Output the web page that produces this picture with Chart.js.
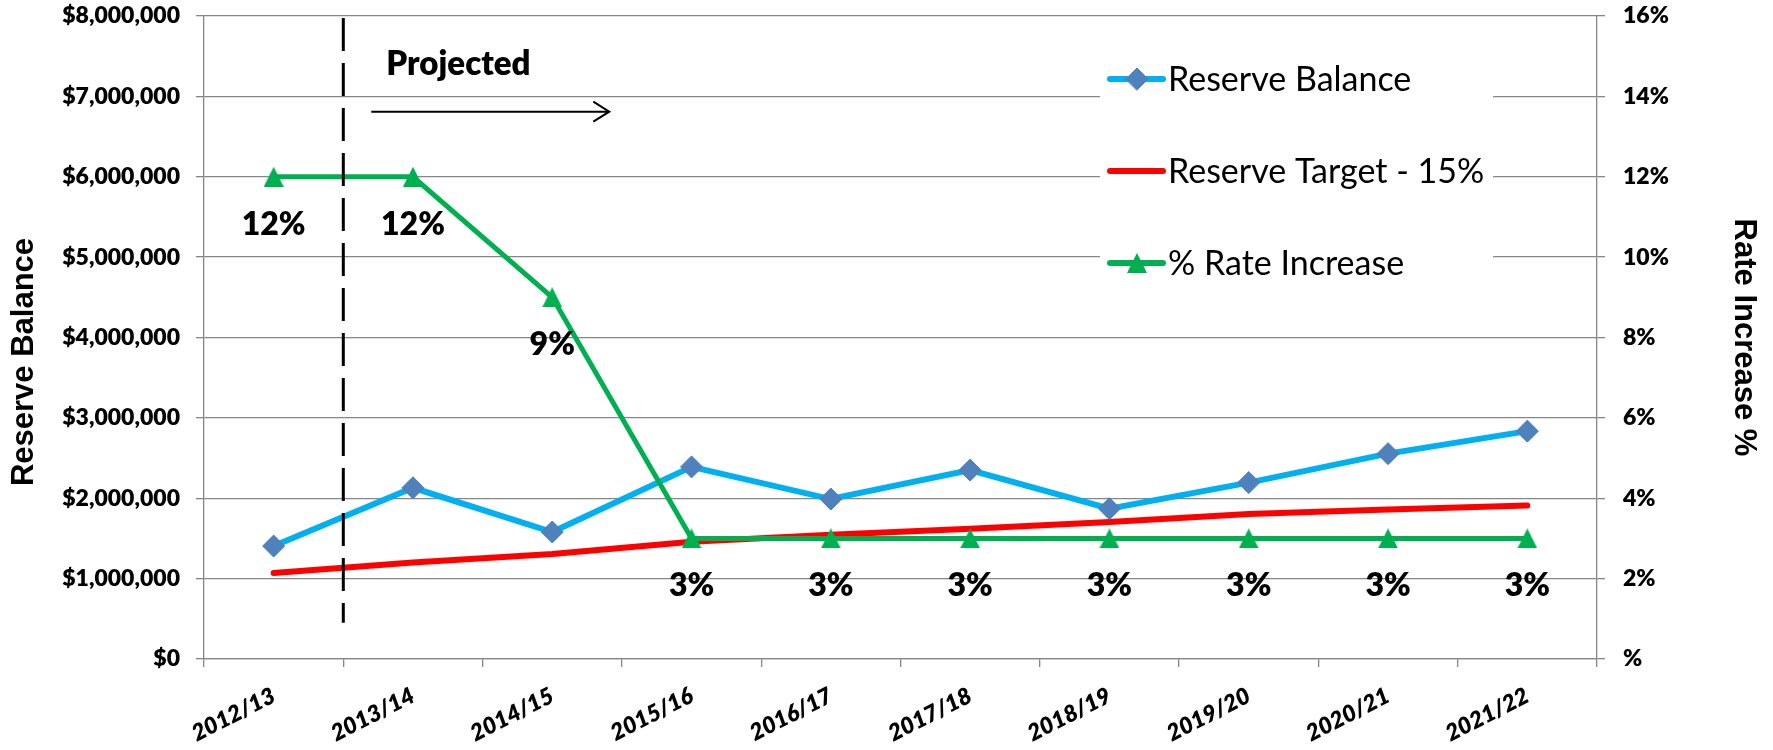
<!DOCTYPE html>
<html>
<head>
<meta charset="utf-8">
<script src="https://cdn.jsdelivr.net/npm/chart.js@4.4.1/dist/chart.umd.min.js"></script>
<style>
  html, body { margin: 0; padding: 0; background: #fff; }
  #wrap { width: 1773px; height: 750px; }
</style>
</head>
<body>
<div id="wrap"><canvas id="chart" width="1773" height="750"></canvas></div>
<script>
// Reserve balance vs target (left axis) and yearly rate increase (right axis)
const years = ['2012/13', '2013/14', '2014/15', '2015/16', '2016/17', '2017/18', '2018/19', '2019/20', '2020/21', '2021/22'];
const reserveBalance = [1405000, 2130000, 1580000, 2390000, 1990000, 2350000, 1870000, 2195000, 2555000, 2835000];
const reserveTarget = [1070000, 1200000, 1305000, 1460000, 1545000, 1620000, 1705000, 1805000, 1860000, 1910000];
const rateIncrease = [12, 12, 9, 3, 3, 3, 3, 3, 3, 3];

const balanceMax = 8000000, balanceStep = 1000000;
const rateMax = 16, rateStep = 2;

// where the projection starts (between 1st and 2nd category) and its note
const projectionSplit = 0.5;
const projectedLabel = 'Projected';

const GRID = '#868686';
const FONT = 'Lato, "Noto Sans", sans-serif';
const TITLE_FONT = '"Liberation Sans", Arial, sans-serif';
const HEAVY = '800';

// Excel style triangle marker
function triangleMarker(w, h, color) {
  const c = document.createElement('canvas');
  c.width = w; c.height = h;
  const g = c.getContext('2d');
  g.fillStyle = color;
  g.beginPath();
  g.moveTo(w / 2, 0);
  g.lineTo(w, h);
  g.lineTo(0, h);
  g.closePath();
  g.fill();
  return c;
}
const greenTriangle = triangleMarker(20, 20, '#00B050');

const overlays = {
  id: 'overlays',
  afterDatasetsDraw(chart) {
    const { ctx, chartArea, scales } = chart;
    const x = scales.x, y = scales.y;
    ctx.save();

    // left axis title, sits a bit below the middle like the original
    ctx.font = 'bold 31px ' + TITLE_FONT;
    ctx.fillStyle = '#000';
    ctx.textAlign = 'center';
    ctx.textBaseline = 'middle';
    ctx.translate(24, 362);
    ctx.rotate(-Math.PI / 2);
    ctx.fillText('Reserve Balance', 0, 0);
    ctx.setTransform(1, 0, 0, 1, 0, 0);

    // % labels under the rate points
    const rateMeta = chart.getDatasetMeta(2);
    ctx.font = HEAVY + ' 32px ' + FONT;
    ctx.textAlign = 'center';
    ctx.textBaseline = 'alphabetic';
    rateMeta.data.forEach((pt, i) => {
      ctx.fillText(rateIncrease[i] + '%', pt.x, pt.y + 58);
    });

    // dashed split line
    const sx = x.getPixelForValue(projectionSplit);
    ctx.strokeStyle = '#000';
    ctx.lineWidth = 3;
    ctx.setLineDash([33, 12]);
    ctx.beginPath();
    ctx.moveTo(sx, chartArea.top + 2);
    ctx.lineTo(sx, y.getPixelForValue(450000));
    ctx.stroke();
    ctx.setLineDash([]);

    // "Projected" note with arrow
    ctx.font = HEAVY + ' 33px ' + FONT;
    ctx.textAlign = 'left';
    ctx.fillText(projectedLabel, sx + 43, y.getPixelForValue(7270000));
    const ay = y.getPixelForValue(6810000);
    const ax0 = sx + 28, ax1 = sx + 266;
    ctx.lineWidth = 2;
    ctx.beginPath();
    ctx.moveTo(ax0, ay);
    ctx.lineTo(ax1, ay);
    ctx.moveTo(ax1 - 16, ay - 10);
    ctx.lineTo(ax1, ay);
    ctx.lineTo(ax1 - 16, ay + 10);
    ctx.stroke();

    // legend box inside the plot, top right
    const bx = chartArea.right - 497, by = chartArea.top + 26;
    ctx.fillStyle = '#fff';
    ctx.fillRect(bx, by, 393, 256);
    ctx.font = '34px ' + FONT;
    ctx.textAlign = 'left';
    [0, 1, 2].forEach((di, row) => {
      const ds = chart.data.datasets[di];
      const ly = chartArea.top + 63 + row * 92;
      ctx.strokeStyle = ds.borderColor;
      ctx.lineWidth = 6;
      ctx.lineCap = 'round';
      ctx.beginPath();
      ctx.moveTo(bx + 10, ly);
      ctx.lineTo(bx + 63, ly);
      ctx.stroke();
      if (ds.pointRadius > 0) {
        ctx.fillStyle = ds.pointBackgroundColor;
        ctx.strokeStyle = ds.pointBorderColor;
        ctx.lineWidth = 1;
        Chart.helpers.drawPoint(ctx, { pointStyle: ds.pointStyle, radius: ds.pointRadius, rotation: 0, borderWidth: 1 }, bx + 37, ly);
      }
      ctx.fillStyle = '#000';
      ctx.fillText(ds.label, bx + 68, ly + 12);
    });
    ctx.restore();
  }
};

new Chart(document.getElementById('chart'), {
  type: 'line',
  data: {
    labels: years,
    datasets: [
      {
        label: 'Reserve Balance',
        data: reserveBalance,
        yAxisID: 'y',
        borderColor: '#00B0F0',
        borderWidth: 6,
        pointStyle: 'rectRot',
        pointRadius: 11,
        pointBackgroundColor: '#4F81BD',
        pointBorderColor: '#4A7EBB',
        pointBorderWidth: 1,
        tension: 0,
        order: 1
      },
      {
        label: 'Reserve Target - 15%',
        data: reserveTarget,
        yAxisID: 'y',
        borderColor: '#FF0000',
        borderWidth: 6,
        borderCapStyle: 'round',
        pointRadius: 0,
        tension: 0,
        order: 2
      },
      {
        label: '% Rate Increase',
        data: rateIncrease,
        yAxisID: 'y1',
        borderColor: '#00B050',
        borderWidth: 5,
        pointStyle: greenTriangle,
        pointRadius: 10,
        pointBackgroundColor: '#00B050',
        pointBorderColor: '#00B050',
        tension: 0,
        order: 0
      }
    ]
  },
  options: {
    responsive: false,
    animation: false,
    devicePixelRatio: 1,
    layout: { padding: { top: 16, left: 0, right: 0, bottom: 0 } },
    plugins: {
      legend: { display: false },
      tooltip: { enabled: false }
    },
    scales: {
      x: {
        offset: true,
        grid: { offset: true, drawOnChartArea: false, color: GRID, lineWidth: 1.3, tickLength: 8 },
        border: { color: GRID, width: 1.3 },
        ticks: {
          color: '#000',
          font: { family: FONT, weight: HEAVY, style: 'italic', size: 23 },
          minRotation: 27, maxRotation: 27, padding: 15, autoSkip: false
        },
        afterFit(s) { s.height = 91; s.paddingLeft = 0; s.paddingRight = 0; }
      },
      y: {
        position: 'left',
        min: 0, max: balanceMax,
        grid: { color: GRID, lineWidth: 1.3, tickLength: 8 },
        border: { color: GRID, width: 1.3 },
        ticks: {
          stepSize: balanceStep,
          color: '#000',
          padding: 16,
          font: { family: FONT, weight: HEAVY, size: 23 },
          callback: v => '$' + Number(v).toLocaleString('en-US')
        },
        afterFit(s) { s.width = 204; s.paddingTop = 0; s.paddingBottom = 0; }
      },
      y1: {
        position: 'right',
        min: 0, max: rateMax,
        grid: { drawOnChartArea: false, color: GRID, lineWidth: 1.3, tickLength: 8 },
        border: { color: GRID, width: 1.3 },
        ticks: {
          stepSize: rateStep,
          color: '#000',
          padding: 18,
          font: { family: FONT, weight: HEAVY, size: 23 },
          callback: v => (v === 0 ? '' : v) + '%'
        },
        title: {
          display: true,
          text: 'Rate Increase %',
          color: '#000',
          font: { family: TITLE_FONT, weight: 'bold', size: 31 },
          padding: { top: 11, bottom: 0 }
        },
        afterFit(s) { s.width = 176; s.paddingTop = 0; s.paddingBottom = 0; }
      }
    }
  },
  plugins: [overlays]
});
</script>
</body>
</html>
